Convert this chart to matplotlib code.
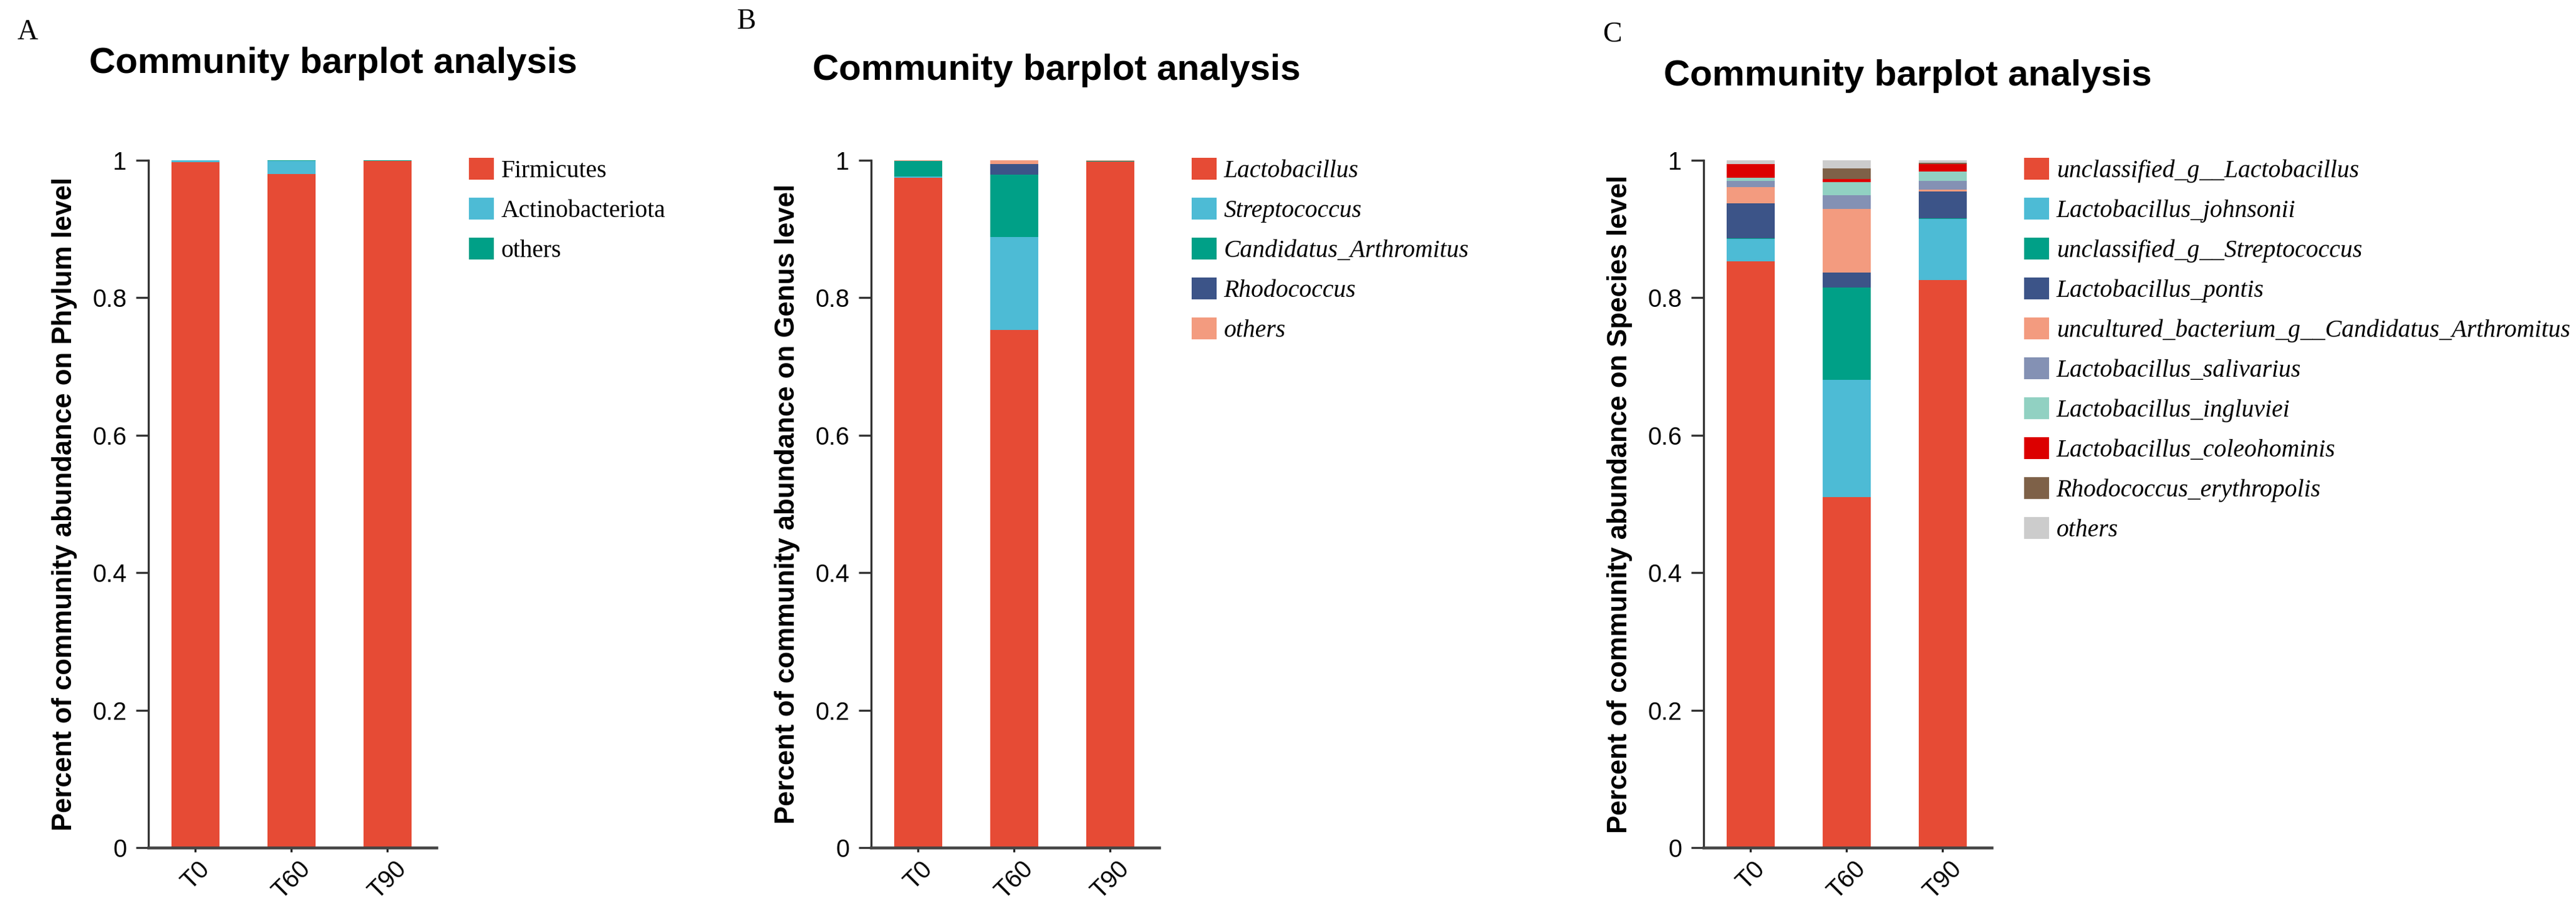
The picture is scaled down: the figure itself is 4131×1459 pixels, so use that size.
import numpy as np
import matplotlib
matplotlib.use("Agg")
import matplotlib.pyplot as plt
from matplotlib.ticker import FormatStrFormatter

# samples
samples = ["T0", "T60", "T90"]

# phylum level
phylum_names = ["Firmicutes", "Actinobacteriota", "others"]
firmicutes = [0.997, 0.980, 0.999]
actinobacteriota = [0.003, 0.019, 0.0005]
phylum_others = [0.0, 0.001, 0.0005]

# genus level
genus_names = ["Lactobacillus", "Streptococcus", "Candidatus_Arthromitus",
               "Rhodococcus", "others"]
lactobacillus = [0.975, 0.753, 0.998]
streptococcus = [0.001, 0.135, 0.0005]
candidatus_arthromitus = [0.023, 0.091, 0.0005]
rhodococcus = [0.0, 0.016, 0.0]
genus_others = [0.001, 0.005, 0.001]

# species level
species_names = ["unclassified_g__Lactobacillus", "Lactobacillus_johnsonii",
                 "unclassified_g__Streptococcus", "Lactobacillus_pontis",
                 "uncultured_bacterium_g__Candidatus_Arthromitus",
                 "Lactobacillus_salivarius", "Lactobacillus_ingluviei",
                 "Lactobacillus_coleohominis", "Rhodococcus_erythropolis",
                 "others"]
uncl_lactobacillus = [0.853, 0.510, 0.826]
l_johnsonii = [0.033, 0.171, 0.089]
uncl_streptococcus = [0.001, 0.134, 0.001]
l_pontis = [0.050, 0.022, 0.039]
uncult_arthromitus = [0.024, 0.092, 0.002]
l_salivarius = [0.009, 0.020, 0.013]
l_ingluviei = [0.005, 0.019, 0.014]
l_coleohominis = [0.020, 0.005, 0.011]
r_erythropolis = [0.0, 0.015, 0.001]
species_others = [0.005, 0.012, 0.004]

npg = ["#E64B35", "#4DBBD5", "#00A087", "#3C5488", "#F39B7F",
       "#8491B4", "#91D1C2", "#DC0000", "#7E6148", "#CCCCCC"]

W, H = 4131, 1459
fig = plt.figure(figsize=(W / 300, H / 300), dpi=300)

sans = ["Liberation Sans", "DejaVu Sans"]
narrow = ["Liberation Sans Narrow", "Liberation Sans", "DejaVu Sans"]
serif = ["Liberation Serif", "DejaVu Serif"]


def px_box(left, top, width, height):
    return [left / W, 1 - (top + height) / H, width / W, height / H]


def draw_panel(axleft, series, names, colors, level, italic):
    ax = fig.add_axes(px_box(axleft, 257, 462, 1102))
    x = np.arange(len(samples))
    bottom = np.zeros(len(samples))
    handles = []
    for vals, name, col in zip(series, names, colors):
        b = ax.bar(x, vals, width=0.5, bottom=bottom, color=col,
                   linewidth=0, label=name)
        bottom += np.array(vals)
        handles.append(b)
    ax.set_xlim(-0.49, 2.51)
    ax.set_ylim(0, 1)
    ax.set_yticks([0, 0.2, 0.4, 0.6, 0.8, 1.0])
    ax.yaxis.set_major_formatter(FormatStrFormatter("%g"))
    ax.set_xticks(x)
    ax.set_xticklabels(samples, rotation=45, ha="center", va="top",
                       family=narrow, fontsize=9.5)
    for t in ax.get_yticklabels():
        t.set_family(narrow)
        t.set_fontsize(9.5)
    for s in ["top", "right"]:
        ax.spines[s].set_visible(False)
    ax.spines["left"].set_color("#333333")
    ax.spines["left"].set_linewidth(0.8)
    ax.spines["bottom"].set_color("#444444")
    ax.spines["bottom"].set_linewidth(1.1)
    ax.tick_params(axis="y", length=4.8, width=0.8, pad=3.5, color="#333333")
    ax.tick_params(axis="x", length=1.6, width=0.8, pad=2, color="#222222")
    ax.set_ylabel("Percent of community abundance on %s level" % level,
                  family=sans, fontweight="bold", fontsize=10.5)
    ax.yaxis.set_label_coords(-0.247, 0.5)
    leg = ax.legend(handles=handles, loc="upper left",
                    bbox_to_anchor=(1.113, 1.004), frameon=False,
                    borderpad=0, borderaxespad=0, handlelength=1.0,
                    handleheight=1.0, handletextpad=0.3, labelspacing=0.6,
                    prop={"family": serif, "size": 9.5,
                          "style": "italic" if italic else "normal"})
    return ax


draw_panel(238, [firmicutes, actinobacteriota, phylum_others],
           phylum_names, [npg[0], npg[1], npg[2]], "Phylum", False)
draw_panel(1397, [lactobacillus, streptococcus, candidatus_arthromitus,
                  rhodococcus, genus_others],
           genus_names, npg[:5], "Genus", True)
draw_panel(2732, [uncl_lactobacillus, l_johnsonii, uncl_streptococcus,
                  l_pontis, uncult_arthromitus, l_salivarius, l_ingluviei,
                  l_coleohominis, r_erythropolis, species_others],
           species_names, npg, "Species", True)

# panel titles and letters
for left, base in [(143, 117), (1303, 128), (2668, 137)]:
    fig.text(left / W, 1 - base / H, "Community barplot analysis",
             family=sans, fontweight="bold", fontsize=14, va="baseline")
for letter, left, base in [("A", 28, 63), ("B", 1182, 46), ("C", 2570, 67)]:
    fig.text(left / W, 1 - base / H, letter, family=serif, fontsize=11,
             va="baseline")

fig.savefig("out.png", dpi=300)
